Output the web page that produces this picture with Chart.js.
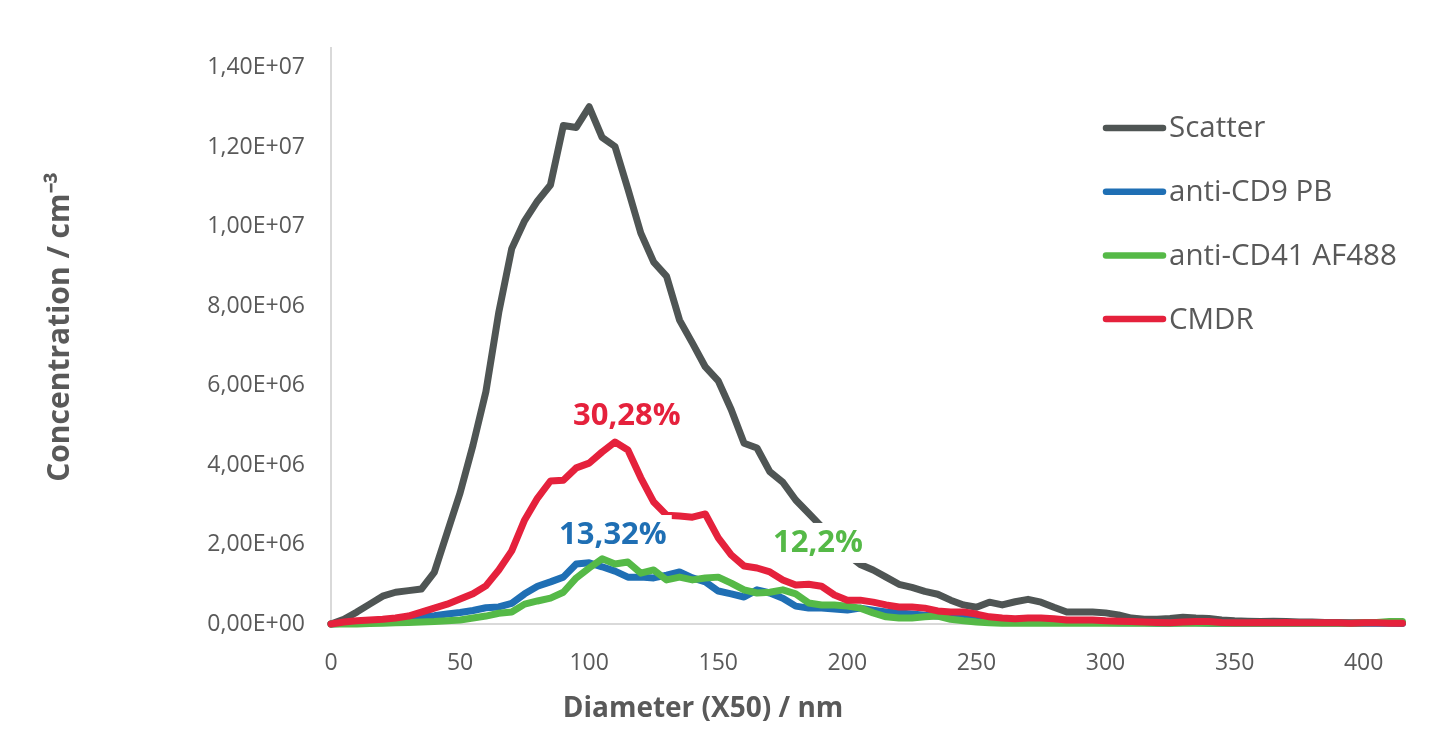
<!DOCTYPE html>
<html><head><meta charset="utf-8">
<script src="https://cdn.jsdelivr.net/npm/chart.js@4.4.1/dist/chart.umd.min.js"></script>
<style>html,body{margin:0;padding:0;background:#fff;}#wrap{width:1446px;height:750px;}</style>
</head><body><div id="wrap"><canvas id="c" width="1446" height="750"></canvas></div>
<script>
// Diameter (X50) in nm
const diameters = [0,5,10,15,20,25,30,35,40,45,50,55,60,65,70,75,80,85,90,95,100,105,110,115,120,125,130,135,140,145,150,155,160,165,170,175,180,185,190,195,200,205,210,215,220,225,230,235,240,245,250,255,260,265,270,275,280,285,290,295,300,305,310,315,320,325,330,335,340,345,350,355,360,365,370,375,380,385,390,395,400,405,410,415];
// Concentrations in units of 1E+06 cm^-3
const UNIT = 1e6;
const scatterValues = [0,0.12,0.3,0.5,0.7,0.8,0.84,0.88,1.3,2.3,3.3,4.5,5.85,7.85,9.45,10.15,10.65,11.05,12.55,12.5,13.02,12.25,12.02,10.95,9.84,9.11,8.75,7.65,7.07,6.47,6.12,5.4,4.55,4.43,3.83,3.57,3.12,2.79,2.45,2.08,1.75,1.5,1.36,1.18,1.0,0.92,0.82,0.75,0.6,0.48,0.42,0.55,0.48,0.56,0.62,0.55,0.42,0.3,0.3,0.3,0.28,0.23,0.15,0.12,0.12,0.14,0.17,0.15,0.14,0.1,0.08,0.07,0.06,0.07,0.06,0.05,0.05,0.04,0.04,0.03,0.03,0.03,0.03,0.02];
const cd9Values = [0,0.02,0.04,0.07,0.1,0.12,0.15,0.18,0.21,0.25,0.29,0.34,0.41,0.43,0.52,0.76,0.95,1.06,1.18,1.51,1.54,1.44,1.33,1.18,1.18,1.16,1.23,1.31,1.16,1.06,0.83,0.76,0.68,0.86,0.78,0.65,0.45,0.4,0.4,0.38,0.35,0.4,0.35,0.3,0.28,0.25,0.22,0.2,0.18,0.15,0.12,0.1,0.08,0.05,0.04,0.04,0.04,0.05,0.05,0.04,0.04,0.03,0.03,0.03,0.02,0.02,0.03,0.03,0.02,0.02,0.02,0.02,0.02,0.02,0.02,0.02,0.02,0.02,0.02,0.02,0.02,0.02,0.02,0.02];
const cd41Values = [0,0,0,0.01,0.02,0.03,0.04,0.05,0.06,0.08,0.1,0.15,0.2,0.27,0.3,0.5,0.58,0.65,0.8,1.16,1.41,1.64,1.51,1.56,1.28,1.36,1.11,1.18,1.11,1.16,1.18,1.03,0.86,0.78,0.8,0.86,0.76,0.53,0.48,0.48,0.45,0.4,0.28,0.18,0.15,0.15,0.18,0.2,0.12,0.08,0.05,0.03,0.02,0.02,0.02,0.02,0.02,0.02,0.02,0.02,0.02,0.02,0.02,0.02,0.02,0.02,0.02,0.02,0.02,0.02,0.02,0.02,0.02,0.02,0.02,0.02,0.02,0.02,0.02,0.02,0.03,0.04,0.06,0.06];
const cmdrValues = [0,0.05,0.08,0.1,0.12,0.15,0.2,0.3,0.4,0.5,0.63,0.76,0.96,1.36,1.84,2.62,3.17,3.6,3.62,3.93,4.05,4.33,4.58,4.38,3.68,3.07,2.74,2.72,2.69,2.77,2.17,1.74,1.46,1.41,1.31,1.11,0.98,1.0,0.95,0.73,0.6,0.6,0.55,0.48,0.43,0.43,0.4,0.33,0.3,0.3,0.25,0.18,0.15,0.13,0.15,0.15,0.13,0.1,0.1,0.1,0.08,0.07,0.06,0.05,0.04,0.03,0.05,0.06,0.06,0.04,0.03,0.03,0.04,0.03,0.04,0.03,0.03,0.03,0.03,0.02,0.03,0.03,0.02,0.02];
const seriesNames = ['Scatter','anti-CD9 PB','anti-CD41 AF488','CMDR'];
const xTickValues = [0,50,100,150,200,250,300,350,400];
const xTickLabels = ['0','50','100','150','200','250','300','350','400'];
const yTickValues = [0,2e6,4e6,6e6,8e6,1e7,1.2e7,1.4e7];
const yTickLabels = ['0,00E+00','2,00E+06','4,00E+06','6,00E+06','8,00E+06','1,00E+07','1,20E+07','1,40E+07'];
const xTitle = 'Diameter (X50) / nm';
const yTitle = 'Concentration / cm\u207B\u00B3';
const pctTexts = ['30,28%','13,32%','12,2%'];
const pctX = [114.6,109.2,188.6];
const pctY = [5.24e6,2.24e6,2.04e6];

const colors = ['#4f5554','#1f6fb4','#55b947','#e5213c'];
const FONT = "'Open Sans', sans-serif";
const TXT = '#595959';

const allValues = [scatterValues, cd9Values, cd41Values, cmdrValues];
const datasets = allValues.map((vals, i) => ({
  label: seriesNames[i],
  data: vals.map((v, k) => ({x: diameters[k], y: v * UNIT})),
  borderColor: colors[i],
  backgroundColor: colors[i],
  borderWidth: 7,
  pointRadius: 0,
  tension: 0,
  borderCapStyle: 'round',
  borderJoinStyle: 'round',
  clip: 8,
  order: 4 - i
}));

const pctPlugin = {
  id: 'pct',
  afterDatasetsDraw(chart) {
    const ctx = chart.ctx, xs = chart.scales.x, ys = chart.scales.y;
    const pctColors = [colors[3], colors[1], colors[2]];
    ctx.save();
    ctx.font = "bold 31px " + FONT;
    ctx.textAlign = 'center';
    ctx.textBaseline = 'middle';
    pctTexts.forEach((t, i) => {
      const px = xs.getPixelForValue(pctX[i]);
      const py = ys.getPixelForValue(pctY[i]);
      const w = ctx.measureText(t).width;
      ctx.fillStyle = '#fff';
      ctx.fillRect(px - w / 2 - 5, py - 20, w + 10, 40);
      ctx.fillStyle = pctColors[i];
      ctx.fillText(t, px, py);
    });
    ctx.restore();
  }
};

const titlesAndLegend = {
  id: 'titlesAndLegend',
  afterDraw(chart) {
    const ctx = chart.ctx;
    ctx.save();
    ctx.fillStyle = TXT;
    ctx.textAlign = 'center';
    ctx.textBaseline = 'middle';
    ctx.font = "bold 28px " + FONT;
    ctx.fillText(xTitle, 703, 709);
    ctx.save();
    ctx.translate(60, 327);
    ctx.rotate(-Math.PI / 2);
    ctx.font = "bold 30px " + FONT;
    ctx.fillText(yTitle, 0, 0);
    ctx.restore();
    ctx.font = "29.5px " + FONT;
    ctx.textAlign = 'left';
    chart.data.datasets.forEach((ds, i) => {
      const y = 128 + i * 63.7;
      ctx.strokeStyle = ds.borderColor;
      ctx.lineWidth = 6.5;
      ctx.lineCap = 'round';
      ctx.beginPath();
      ctx.moveTo(1106, y);
      ctx.lineTo(1163, y);
      ctx.stroke();
      ctx.fillStyle = TXT;
      ctx.fillText(ds.label, 1169, y + 1);
    });
    ctx.restore();
  }
};

new Chart(document.getElementById('c'), {
  type: 'line',
  data: { datasets },
  options: {
    responsive: false,
    animation: false,
    events: [],
    layout: { padding: { left: 40, top: 48, right: 41, bottom: 21 } },
    plugins: { legend: { display: false }, tooltip: { enabled: false } },
    scales: {
      x: {
        type: 'linear', min: 0, max: 416,
        afterBuildTicks(s) { s.ticks = xTickValues.map(v => ({value: v})); },
        afterFit(s) { s.height = 105; },
        grid: { display: false, drawTicks: false },
        border: { display: true, color: '#d9d9d9', width: 2 },
        ticks: {
          padding: 26, color: TXT, font: { family: FONT, size: 23 }, maxRotation: 0,
          callback(v) { const i = xTickValues.indexOf(v); return i >= 0 ? xTickLabels[i] : ''; }
        },
        title: { display: false }
      },
      y: {
        type: 'linear', min: 0, max: 14.5e6,
        afterBuildTicks(s) { s.ticks = yTickValues.map(v => ({value: v})); },
        afterFit(s) { s.width = 291; },
        grid: { display: false, drawTicks: false },
        border: { display: true, color: '#d9d9d9', width: 2 },
        ticks: {
          padding: 26, color: TXT, font: { family: FONT, size: 23 },
          callback(v) { const i = yTickValues.indexOf(v); return i >= 0 ? yTickLabels[i] : ''; }
        },
        title: { display: false }
      }
    }
  },
  plugins: [pctPlugin, titlesAndLegend]
});
</script></body></html>
